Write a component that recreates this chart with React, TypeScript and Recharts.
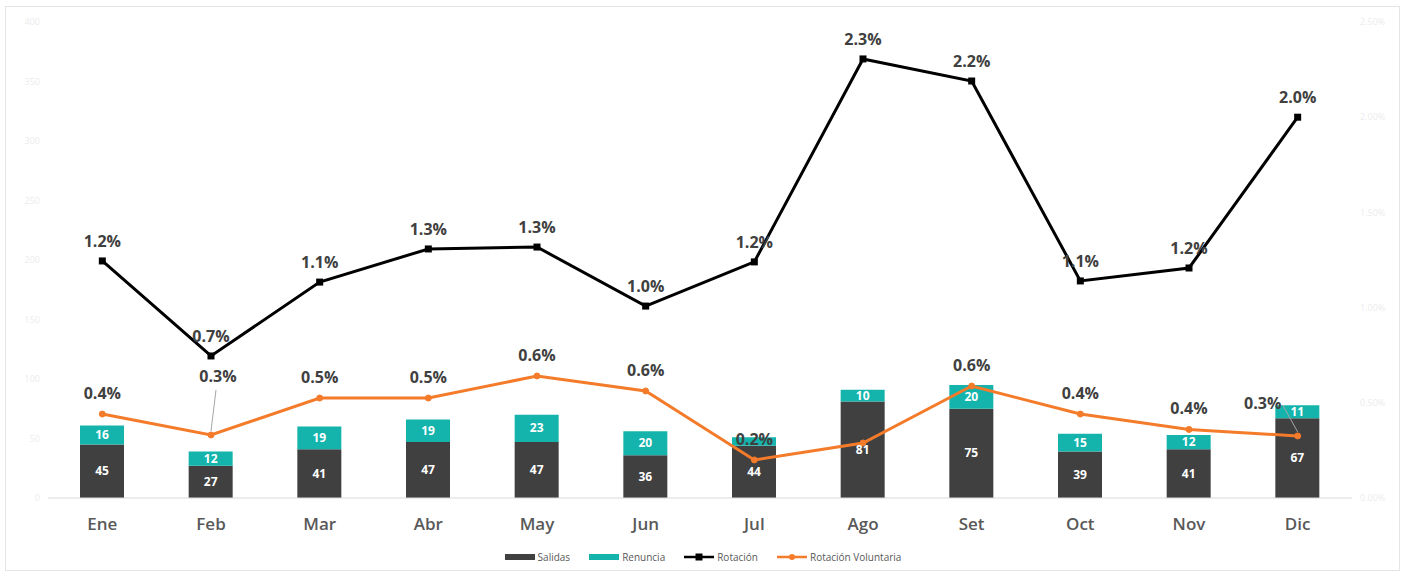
import React from 'react'
import {
  Bar,
  ComposedChart,
  LabelList,
  Legend,
  Line,
  XAxis,
  YAxis,
} from 'recharts'

const MONTHS = ['Ene', 'Feb', 'Mar', 'Abr', 'May', 'Jun', 'Jul', 'Ago', 'Set', 'Oct', 'Nov', 'Dic']
const SALIDAS = [45, 27, 41, 47, 47, 36, 44, 81, 75, 39, 41, 67]
const RENUNCIA = [16, 12, 19, 19, 23, 20, 7, 10, 20, 15, 12, 11]
// rotation rates, in percent
const ROTACION = [1.245, 0.746, 1.134, 1.308, 1.318, 1.008, 1.24, 2.306, 2.19, 1.14, 1.208, 2.0]
const ROTACION_VOL = [0.441, 0.331, 0.525, 0.525, 0.641, 0.562, 0.2, 0.289, 0.588, 0.441, 0.36, 0.326]
const LEFT_TICKS = [0, 50, 100, 150, 200, 250, 300, 350, 400]
const RIGHT_TICKS = [0, 0.5, 1, 1.5, 2, 2.5]

const DARK = '#404040'
const TEAL = '#14b4ac'
const ORANGE = '#f47b2a'
const TEXT = '#595959'
const FONT = '"Open Sans", sans-serif'

// labels Excel moved by hand (dx, dy from the point), with a leader line
const VOL_NUDGE: Record<number, [number, number]> = { 1: [7, -53], 11: [-35, -27] }
const VOL_HIDDEN = new Set([7])

const data = MONTHS.map((m, i) => ({
  month: m,
  salidas: SALIDAS[i],
  renuncia: RENUNCIA[i],
  rot: ROTACION[i],
  vol: ROTACION_VOL[i],
}))

const pct = (v: number) => `${v.toFixed(1)}%`

function SquareDot(props: any) {
  const { cx, cy } = props
  if (cx == null || cy == null) return null
  return <rect x={cx - 3.5} y={cy - 3.5} width={7} height={7} fill="#000" />
}

function RotLabel(props: any) {
  const { x, y, value } = props
  return (
    <text x={x} y={y - 14} textAnchor="middle" fill={DARK} fontSize={16} fontWeight={700} fontFamily={FONT}>
      {pct(value)}
    </text>
  )
}

function VolLabel(props: any) {
  const { x, y, value, index } = props
  if (VOL_HIDDEN.has(index)) return null
  const nudge = VOL_NUDGE[index]
  if (nudge) {
    const [dx, dy] = nudge
    const lx = dx > 0 ? x + dx - 2 : x + dx + 20
    const ly = dx > 0 ? y + dy + 8 : y + dy - 4
    return (
      <g>
        <line x1={x} y1={y - 4} x2={lx} y2={ly} stroke="#a6a6a6" strokeWidth={1} />
        <text x={x + dx} y={y + dy} textAnchor="middle" fill={DARK} fontSize={16} fontWeight={700} fontFamily={FONT}>
          {pct(value)}
        </text>
      </g>
    )
  }
  return (
    <text x={x} y={y - 15} textAnchor="middle" fill={DARK} fontSize={16} fontWeight={700} fontFamily={FONT}>
      {pct(value)}
    </text>
  )
}

function BarLabel(props: any) {
  const { x, y, width, height, value } = props
  if (height < 10) return null
  return (
    <text
      x={x + width / 2}
      y={y + height / 2 + 4}
      textAnchor="middle"
      fill="#fff"
      fontSize={12}
      fontWeight={700}
      fontFamily={FONT}
    >
      {value}
    </text>
  )
}

function LegendContent() {
  const items = [
    { label: 'Salidas', kind: 'bar', color: DARK },
    { label: 'Renuncia', kind: 'bar', color: TEAL },
    { label: 'Rotación', kind: 'square', color: '#000' },
    { label: 'Rotación Voluntaria', kind: 'circle', color: ORANGE },
  ]
  return (
    <div style={{ display: 'flex', justifyContent: 'center', gap: 18, fontFamily: FONT, fontSize: 10, color: TEXT }}>
      {items.map((it) => (
        <div key={it.label} style={{ display: 'flex', alignItems: 'center', gap: 2 }}>
          <svg width={32} height={10}>
            {it.kind === 'bar' && <rect x={1} y={2} width={30} height={6} fill={it.color} />}
            {it.kind !== 'bar' && <line x1={1} y1={5} x2={31} y2={5} stroke={it.color} strokeWidth={2.5} />}
            {it.kind === 'square' && <rect x={12.5} y={1.5} width={7} height={7} fill={it.color} />}
            {it.kind === 'circle' && <circle cx={16} cy={5} r={3} fill={it.color} />}
          </svg>
          <span>{it.label}</span>
        </div>
      ))}
    </div>
  )
}

export default function App() {
  return (
    <div style={{ position: 'absolute', left: 0, top: 0, width: 1405, height: 576, background: '#fff' }}>
      <div
        style={{
          position: 'absolute',
          left: 5,
          top: 6,
          width: 1395,
          height: 565,
          border: '1px solid #e4e4e4',
          boxSizing: 'border-box',
        }}
      />
      <ComposedChart
        width={1405}
        height={576}
        data={data}
        margin={{ top: 22, right: 8, bottom: 0, left: 8 }}
        barCategoryGap={0}
        style={{ position: 'absolute', left: 0, top: 0 }}
      >
        <XAxis
          dataKey="month"
          height={52}
          tickSize={0}
          tickMargin={20}
          axisLine={{ stroke: '#d9d9d9' }}
          tick={{ fill: TEXT, fontSize: 17, fontWeight: 600, fontFamily: FONT }}
        />
        <YAxis
          yAxisId="left"
          width={40}
          domain={[0, 400]}
          ticks={LEFT_TICKS}
          axisLine={false}
          tickLine={false}
          tick={{ fill: '#ececec', fontSize: 9, fontFamily: FONT }}
        />
        <YAxis
          yAxisId="right"
          orientation="right"
          width={45}
          domain={[0, 2.5]}
          ticks={RIGHT_TICKS}
          axisLine={false}
          tickLine={false}
          tickFormatter={(v: number) => `${v.toFixed(2)}%`}
          tick={{ fill: '#ececec', fontSize: 9, fontFamily: FONT }}
        />
        <Legend verticalAlign="bottom" height={26} content={<LegendContent />} />
        <Bar yAxisId="left" dataKey="salidas" name="Salidas" stackId="a" fill={DARK} barSize={44} isAnimationActive={false}>
          <LabelList dataKey="salidas" content={<BarLabel />} />
        </Bar>
        <Bar yAxisId="left" dataKey="renuncia" name="Renuncia" stackId="a" fill={TEAL} barSize={44} isAnimationActive={false}>
          <LabelList dataKey="renuncia" content={<BarLabel />} />
        </Bar>
        <Line
          yAxisId="right"
          dataKey="rot"
          name="Rotación"
          stroke="#000"
          strokeWidth={3}
          dot={<SquareDot />}
          activeDot={false}
          isAnimationActive={false}
        >
          <LabelList dataKey="rot" content={<RotLabel />} />
        </Line>
        <Line
          yAxisId="right"
          dataKey="vol"
          name="Rotación Voluntaria"
          stroke={ORANGE}
          strokeWidth={3}
          dot={{ r: 3, fill: ORANGE, stroke: ORANGE, strokeWidth: 1 }}
          activeDot={false}
          isAnimationActive={false}
        >
          <LabelList dataKey="vol" content={<VolLabel />} />
        </Line>
      </ComposedChart>
    </div>
  )
}
